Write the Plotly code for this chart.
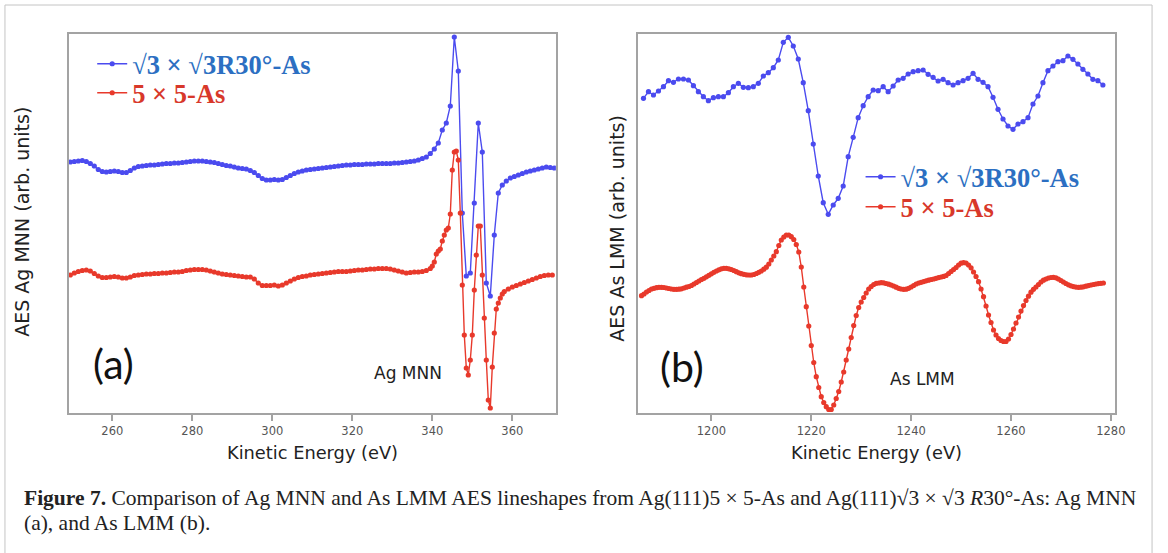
import numpy as np
import plotly.graph_objects as go

# ---------------- data (arb. units) ----------------
# Panel (a): Ag MNN
ag_e_blue = np.arange(249.5, 371.0, 1.0)          # 122 energies
ag_blue = [-162, -161.5, -161, -160.5, -161.5, -163.5, -166, -169.5, -171.5, -172,
           -171.5, -171, -171.5, -172.5, -172.5, -170.5, -168, -166.5, -166, -165.5,
           -165, -165, -164.5, -164, -163.5, -163.5, -163, -163, -162.5, -162,
           -161.5, -161, -161, -161, -161.5, -162, -162.5, -163.5, -164.5, -165.5,
           -166, -167, -168, -168.5, -169, -170.5, -172.5, -175.5, -178.5, -180,
           -180, -179.5, -180, -179.5, -177.5, -175.5, -173.5, -172, -171, -170,
           -169.5, -169, -168.5, -168, -167.5, -167, -166.5, -166, -165.5, -165,
           -165, -164.5, -164.5, -164.5, -164, -164, -164, -163.5, -163.5, -163.5,
           -163.5, -163, -163, -162.5, -162, -161.5, -161, -160, -158.5, -157,
           -153.5, -149, -143, -130, -123, -106, -37, -71, -213, -276,
           -273, -203, -123, -152, -283, -296, -235, -193, -185, -181,
           -178, -176.5, -175, -173.5, -172, -171, -170, -169, -168, -167,
           -167.5, -168]

ag_e_red = np.concatenate([np.arange(249.5, 340.0, 1.0),
                           np.arange(340.0, 358.25, 0.5),
                           np.arange(359.0, 370.5, 1.0)])
ag_red = [-275, -273, -271.5, -270.5, -270, -271, -273.5, -276, -277.5, -277.5,
          -277, -276.5, -277, -278, -278, -277, -275.5, -275, -274.5, -274,
          -274, -273.5, -273.5, -273, -273, -272.5, -272, -272, -271.5, -270.5,
          -270, -269.5, -269.5, -269.5, -270, -271, -272, -273, -274, -274.5,
          -275, -275.5, -276, -276.5, -277, -277, -279, -283, -285.5, -285.5,
          -285.5, -285, -286, -285, -283, -281, -279, -277.5, -276.5, -276,
          -275, -274.5, -274, -273.5, -273, -272.5, -272, -271.5, -271.5, -271.5,
          -271, -270.5, -270, -270, -269.5, -269, -269, -268.5, -268.5, -268.5,
          -269, -270, -271, -272, -273, -272.5, -272, -272, -271.5, -270.5,
          -268.5,
          -266, -262, -254, -251, -249, -241, -235, -230, -228, -214,
          -170, -152, -151, -160, -213, -285, -335, -368, -375, -360,
          -335, -290, -255, -226, -226, -275, -318, -360, -400, -408,
          -367, -333, -309, -303, -298, -294, -291.5,
          -289, -287, -285.5, -284, -282.5, -281, -279.5, -278, -276.5, -275.5,
          -275, -275]

# Panel (b): As LMM
as_e_blue = np.arange(1186.4, 1279.0, 1.0)        # 93 energies
as_blue = [-98.3, -91.7, -95, -91, -86.7, -80.7, -82.3, -79, -79, -80,
           -85.7, -91.7, -96.7, -100.7, -97.7, -96.7, -96.7, -92.7, -86.7, -83.3,
           -87.3, -87.7, -86.7, -83.3, -76, -72.7, -67.7, -60, -42.3, -37.3,
           -46, -59, -82.7, -110.7, -144, -176, -202.7, -214.3, -205, -198.3,
           -186, -156.7, -137.3, -117.7, -105.7, -96.7, -90,
           -90.7, -86.7, -91.7, -86, -80, -78.3, -74, -71.7, -70.7, -70,
           -74.3, -77.3, -81, -79.3, -82.7, -85, -82.7, -80.7, -78.3, -73.3,
           -79.3, -82.3, -86.7, -97.3, -109.3, -119, -126, -129.3, -124, -121.7,
           -117.7, -104, -96, -82.7, -70.7, -66, -61.7, -60.7, -56, -59.3,
           -64, -69.3, -74, -79.3, -80.7, -85]

as_e_red = np.arange(1186.0, 1278.75, 0.5)        # 186 energies
as_red = [-295.7, -294, -292, -290.5, -289, -288.3, -287.7, -287.3, -287.3, -287.5,
          -288, -288.5, -289, -289.3, -289.3, -289.2, -288.8, -288, -287.2, -286.5,
          -285.5, -284, -282.5, -281, -279.5, -278.3, -276.8, -275.3, -273.8, -272.3,
          -271, -269.8, -268.8, -268.3, -268.3, -268.8, -269.5, -270.5, -271.7, -272.8,
          -273.7, -274.3, -274.8, -275, -275, -274.5, -273.5, -272.3, -271, -269.2,
          -267.2, -264, -260, -256, -251.7, -245.5, -240, -237, -235, -235,
          -236.7, -239.5, -244.5, -252, -267, -287, -306.7, -326, -345.5, -362.5,
          -376.7, -387.5, -396.7, -402.5, -406.7, -409.5, -409.5, -405, -398.5, -391.5,
          -382, -372, -360, -349, -337.5, -325.5, -315.5, -307.5, -302, -297.5,
          -293, -289, -286.5, -284.5, -283.3, -283, -282.7, -282.8, -283.5, -284.2,
          -285, -286, -287.2, -288.3, -289, -289.3, -289.2, -288.3, -287, -285.5,
          -284, -283, -282.3, -281.6, -280.8, -280.2, -279.5, -279, -278.3, -277.6,
          -277, -276.4, -275.5, -273.5, -271.5, -269.5, -267.5, -265, -263.2, -262.6,
          -263, -265, -267.8, -272, -276.5, -281.7, -289, -296.7, -306, -315,
          -322.5, -330, -335, -338.5, -340.5, -341.5, -341.5, -339, -334.5, -329,
          -323, -317, -311, -305.5, -300.5, -296.2, -292.2, -289.3, -287, -284.5,
          -282, -280.2, -279, -278, -277.5, -277.3, -277.8, -279, -280.5, -282,
          -283.5, -284.8, -285.8, -286.6, -287.1, -287.3, -287.2, -286.8, -286.2, -285.6,
          -285, -284.5, -284, -283.6, -283.3, -283]

ticks_a = [260, 280, 300, 320, 340, 360]
ticks_b = [1200, 1220, 1240, 1260, 1280]

name_blue = "√3 × √3R30°-As"
name_red = "5 × 5-As"

# ---------------- styling ----------------
W, H = 1168, 553
BLUE = "#4b4bef"
RED = "#e8392b"
BLUE_TXT = "#2c6fc2"
RED_TXT = "#d8382a"
FRAME = "#a3a3a3"
SANS = "DejaVu Sans"
SERIF = "Liberation Serif"


def px(x):
    return x / W


def py(y):
    return 1 - y / H


fig = go.Figure()


def add(xs, ys, color, label, txtcolor, axis, leg):
    fig.add_trace(go.Scatter(
        x=xs, y=ys, xaxis="x" + axis, yaxis="y" + axis,
        name=f"<span style='color:{txtcolor}'>{label}</span>",
        line=dict(color=color, width=1.4), marker=dict(size=5.2, color=color),
        mode="lines+markers", legend=leg))


add(ag_e_blue, ag_blue, BLUE, name_blue, BLUE_TXT, "", "legend")
add(ag_e_red, ag_red, RED, name_red, RED_TXT, "", "legend2")
add(as_e_blue, as_blue, BLUE, name_blue, BLUE_TXT, "2", "legend3")
add(as_e_red, as_red, RED, name_red, RED_TXT, "2", "legend4")

xax = dict(showline=True, mirror=True, linecolor=FRAME, linewidth=1.5,
           ticks="outside", ticklen=6, tickcolor=FRAME, tickwidth=1.5,
           showgrid=False, zeroline=False,
           tickfont=dict(family=SANS, size=11.5, color="#555"))
yax = dict(showline=True, mirror=True, linecolor=FRAME, linewidth=1.5,
           showticklabels=False, ticks="", showgrid=False, zeroline=False)


def leg(xl, yc):
    # legend box placed so that the entry row is centred at yc (pixels)
    return dict(x=px(xl), y=py(yc), xanchor="left", yanchor="middle",
                bgcolor="rgba(0,0,0,0)", borderwidth=0,
                font=dict(family=SERIF, size=26.5, weight="bold"))


ydom = [py(413), py(34)]
fig.update_layout(
    width=W, height=H, margin=dict(l=0, r=0, t=0, b=0),
    paper_bgcolor="white", plot_bgcolor="white",
    xaxis=dict(xax, domain=[px(69.3), px(560.7)], range=[249.1, 370.9],
               tickvals=ticks_a, anchor="y"),
    yaxis=dict(yax, domain=ydom, range=[-413, -34], anchor="x"),
    xaxis2=dict(xax, domain=[px(644), px(1125)], range=[1185.4, 1280.9],
                tickvals=ticks_b, anchor="y2"),
    yaxis2=dict(yax, domain=ydom, range=[-413, -34], anchor="x2"),
    legend=leg(93, 64),
    legend2=leg(93, 93),
    legend3=leg(868, 177),
    legend4=leg(868, 207),
    showlegend=True,
)

ann = []


def note(text, x, y, size, family=SANS, color="#222", **kw):
    d = dict(text=text, x=px(x), y=py(y), xref="paper", yref="paper",
             showarrow=False, xanchor="center", yanchor="middle",
             font=dict(family=family, size=size, color=color))
    d.update(kw)
    ann.append(d)


# axis titles
note("Kinetic Energy (eV)", 315, 452, 17.8)
note("Kinetic Energy (eV)", 884.5, 452, 17.8)
note("AES Ag MNN (arb. units)", 22, 222, 19, textangle=-90)
note("AES As LMM (arb. units)", 622, 228, 19, textangle=-90)
# panel labels
note("(a)", 114, 363, 41, family="Lato", color="#111")
note("(b)", 688, 366, 41, family="Lato", color="#111")
note("Ag MNN", 411.7, 372.5, 17)
note("As LMM", 930, 379, 17)
# caption (two lines)
cap1 = ("<b>Figure 7.</b> Comparison of Ag MNN and As LMM AES lineshapes from Ag(111)5 × 5-As "
        "and Ag(111)√3 × √3 <i>R</i>30°-As: Ag MNN")
cap2 = "(a), and As LMM (b)."
note(cap1, 22, 498, 21.5, family=SERIF, align="left", xanchor="left")
note(cap2, 22, 523, 21.5, family=SERIF, align="left", xanchor="left")
fig.update_layout(annotations=ann)

# outer figure frame
fig.add_shape(type="rect", xref="paper", yref="paper",
              x0=px(5), x1=px(1162), y0=py(600), y1=py(5),
              line=dict(color="#c4c4c4", width=1), fillcolor="rgba(0,0,0,0)", layer="below")

fig.write_html("out.html")
